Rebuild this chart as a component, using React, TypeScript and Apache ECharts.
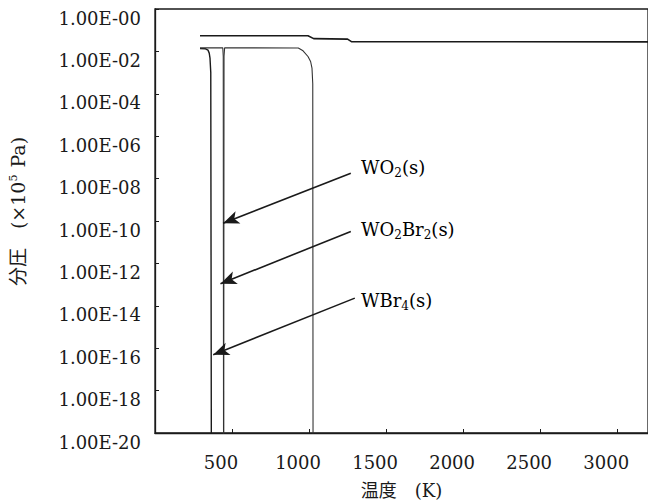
import React, { useEffect, useRef } from "react";
import * as echarts from "echarts";

// Temperature (K), partial pressure (x10^5 Pa)
const gasTotal: [number, number][] = [
  [292, 0.055], [993, 0.055], [1030, 0.040], [1250, 0.038], [1275, 0.029], [3200, 0.028],
];
const wbr4: [number, number][] = [
  [292, 0.0135], [328, 0.0133], [344, 0.0115], [352, 0.0083], [357, 0.0048], [362, 0.001], [366, 1e-22],
];
const wo2br2: [number, number][] = [
  [292, 0.0147], [440, 0.0147], [443, 0.006], [445, 1e-22],
];
const wo2: [number, number][] = [
  [446, 1e-22], [448, 0.006], [452, 0.0148], [930, 0.0145], [961, 0.0107], [993, 0.00575],
  [1010, 0.00334], [1019, 0.00163], [1024, 0.0003], [1026, 1e-22],
];

const xTicks = [500, 1000, 1500, 2000, 2500, 3000];

// annotation arrows: [label-side point, tip point]
const arrowWO2: [number, number][] = [[1271, 1.8e-8], [442, 7.9e-11]];
const arrowWO2Br2: [number, number][] = [[1271, 3.2e-11], [425, 1.1e-13]];
const arrowWBr4: [number, number][] = [[1297, 2.3e-14], [378, 4.9e-17]];

const SERIF = "'DejaVu Serif', 'Liberation Serif', 'Noto Sans CJK JP', serif";
const INK = "#1a1a1a";

function fmtY(v: number): string {
  const e = Math.round(Math.log10(v));
  return "1.00E-" + String(Math.abs(e)).padStart(2, "0");
}

const richBase = {
  n: { fontFamily: SERIF, fontSize: 18, color: INK },
  s: { fontFamily: SERIF, fontSize: 12, color: INK, verticalAlign: "bottom", padding: [0, 0, -3, 0] },
};

function arrowLine(pts: [number, number][]) {
  return {
    silent: true,
    symbol: ["none", "arrow"],
    symbolSize: [10, 16],
    label: { show: false },
    lineStyle: { type: "solid", color: INK, width: 1.6 },
    data: [[{ coord: pts[0] }, { coord: pts[1] }]],
  };
}

export default function App() {
  const ref = useRef<HTMLDivElement>(null);
  useEffect(() => {
    if (!ref.current) return;
    const chart = echarts.init(ref.current, null, { renderer: "svg" });
    const lineBase = {
      type: "line",
      showSymbol: false,
      symbol: "none",
      clip: true,
      z: 3,
    };
    chart.setOption({
      animation: false,
      backgroundColor: "#ffffff",
      grid: {
        left: 152,
        top: 9,
        bottom: 71,
        right: -2,
        show: true,
        borderColor: INK,
        borderWidth: 1.3,
      },
      xAxis: {
        type: "value",
        min: 0,
        max: 3200,
        interval: 500,
        name: "温度\u3000(K)",
        nameLocation: "middle",
        nameGap: 48,
        nameTextStyle: { fontFamily: SERIF, fontSize: 18, color: INK },
        axisLine: { lineStyle: { color: INK, width: 1.3 } },
        axisTick: { inside: true, length: 4, customValues: xTicks, lineStyle: { color: INK } },
        axisLabel: {
          customValues: xTicks,
          formatter: (v: number) => "{a|" + String(v) + "}",
          rich: {
            a: { fontFamily: SERIF, fontSize: 18, color: INK, padding: [0, 22, 0, 0] },
          },
          margin: 20,
        },
        splitLine: { show: false },
      },
      yAxis: {
        type: "log",
        logBase: 10,
        min: 1e-20,
        max: 1,
        interval: 2,
        name: "{c|\u3000分圧\u3000(×10}{u|5}{c| Pa)}",
        nameLocation: "middle",
        nameRotate: 90,
        nameGap: 128,
        nameTextStyle: {
          rich: {
            c: { fontFamily: SERIF, fontSize: 19, color: INK },
            u: { fontFamily: SERIF, fontSize: 11, color: INK, verticalAlign: "top", padding: [0, 1, 6, 0] },
          },
        },
        axisLine: { show: true, lineStyle: { color: INK, width: 1.3 } },
        axisTick: { inside: true, length: 4, lineStyle: { color: INK } },
        axisLabel: {
          formatter: fmtY,
          fontFamily: SERIF,
          fontSize: 18,
          color: INK,
          margin: 14,
          verticalAlign: "top",
        },
        splitLine: { show: false },
      },
      series: [
        { ...lineBase, name: "gas", data: gasTotal, lineStyle: { color: INK, width: 1.6 } },
        { ...lineBase, name: "WBr4(s)", data: wbr4, lineStyle: { color: INK, width: 1.4 }, markLine: arrowLine(arrowWBr4) },
        { ...lineBase, name: "WO2Br2(s)", data: wo2br2, lineStyle: { color: "#333", width: 1.1 }, markLine: arrowLine(arrowWO2Br2) },
        { ...lineBase, name: "WO2(s)", data: wo2, lineStyle: { color: "#333", width: 1.1 }, markLine: arrowLine(arrowWO2) },
      ],
      graphic: [
        {
          type: "text",
          left: 361,
          top: 158,
          style: { text: "{n|WO}{s|2}{n|(s)}", rich: richBase },
        },
        {
          type: "text",
          left: 361,
          top: 220,
          style: { text: "{n|WO}{s|2}{n|Br}{s|2}{n|(s)}", rich: richBase },
        },
        {
          type: "text",
          left: 361,
          top: 291,
          style: { text: "{n|WBr}{s|4}{n|(s)}", rich: richBase },
        },
      ],
    });
    return () => chart.dispose();
  }, []);
  return (
    <div
      ref={ref}
      style={{ position: "fixed", left: 0, top: 0, width: 648, height: 504, background: "#fff" }}
    />
  );
}
